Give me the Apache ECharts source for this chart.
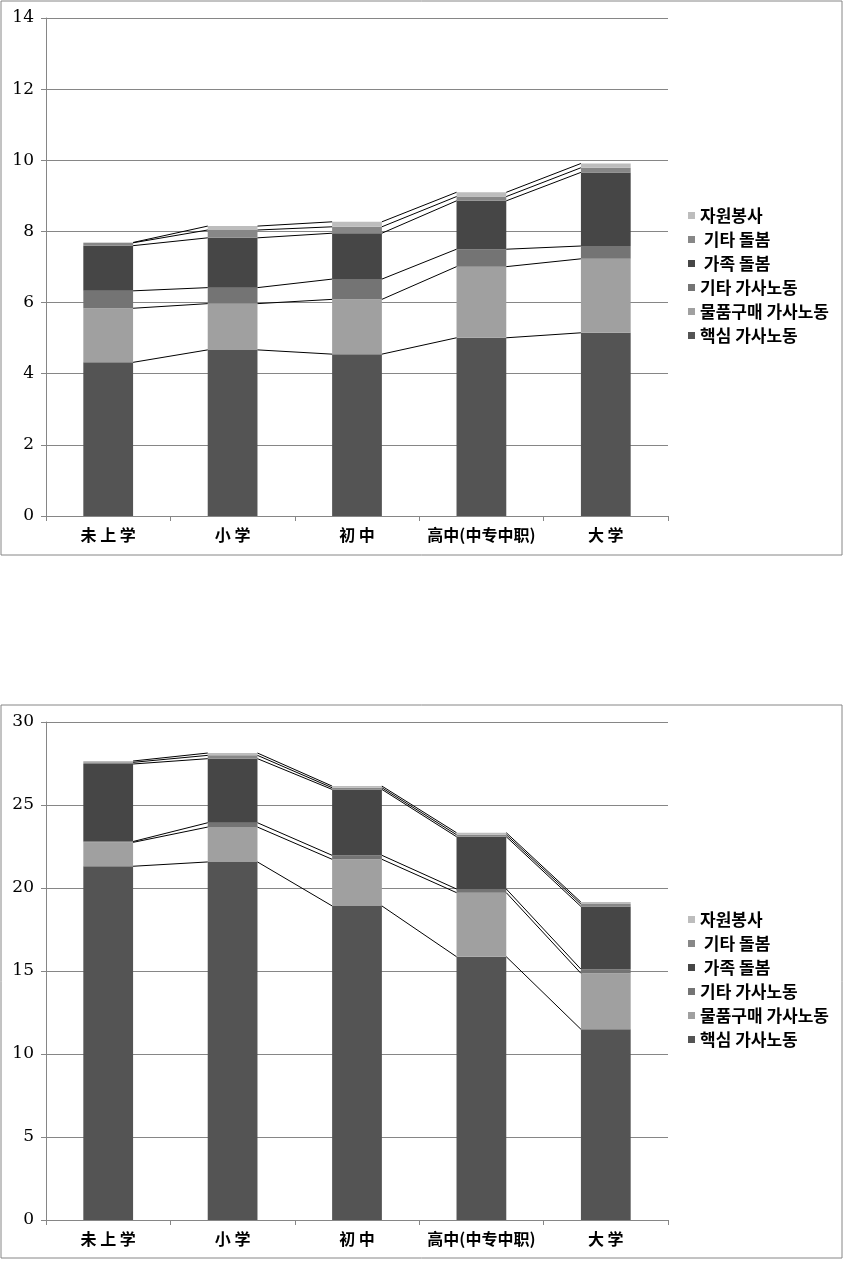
<!DOCTYPE html>
<html>
<head>
<meta charset="utf-8">
<script src="https://cdn.jsdelivr.net/npm/echarts@6/dist/echarts.min.js"></script>
<style>
  body { margin: 0; background: #fff; }
  .chart { position: absolute; left: 0; width: 844px; }
</style>
</head>
<body>
<div id="top" class="chart" style="top:0;height:560px"></div>
<div id="bottom" class="chart" style="top:700px;height:561px"></div>
<script>
// categories and series names
const categories = ['未 上 学', '小 学', '初 中', '高中(中专中职)', '大 学']
const seriesNames = ['핵심 가사노동', '물품구매 가사노동', '기타 가사노동', ' 가족 돌봄', ' 기타 돌봄', '자원봉사']
const seriesColors = ['#545454', '#a0a0a0', '#747474', '#464646', '#878787', '#bdbdbd']

// top chart values
const topCore = [4.32, 4.67, 4.55, 5.01, 5.15]
const topShopping = [1.52, 1.30, 1.54, 2.00, 2.08]
const topOtherHouse = [0.49, 0.45, 0.57, 0.49, 0.36]
const topFamilyCare = [1.27, 1.40, 1.29, 1.36, 2.07]
const topOtherCare = [0.08, 0.22, 0.18, 0.12, 0.13]
const topVolunteer = [0.01, 0.11, 0.14, 0.12, 0.12]

// bottom chart values
const botCore = [21.31, 21.57, 18.92, 15.86, 11.49]
const botShopping = [1.44, 2.10, 2.81, 3.86, 3.37]
const botOtherHouse = [0.05, 0.26, 0.24, 0.22, 0.25]
const botFamilyCare = [4.67, 3.86, 3.97, 3.15, 3.78]
const botOtherCare = [0.10, 0.20, 0.10, 0.12, 0.14]
const botVolunteer = [0.08, 0.14, 0.10, 0.12, 0.12]

const topTicks = { max: 14, interval: 2 }
const botTicks = { max: 30, interval: 5 }

const axisGray = '#868686'

function buildOption(values, ticks, layout) {
  const bars = values.map((d, k) => ({
    name: seriesNames[k],
    type: 'bar',
    stack: 'total',
    barWidth: '40%',
    itemStyle: { color: seriesColors[k] },
    data: d
  }))
  // Excel style series lines between stacked tops
  const cum = [0, 0, 0, 0, 0]
  const lines = values.map((d, k) => {
    d.forEach((v, i) => { cum[i] += v })
    const tops = cum.slice()
    const seg = []
    for (let i = 0; i < tops.length - 1; i++) seg.push([i, tops[i], tops[i + 1]])
    return {
      type: 'custom',
      silent: true,
      z: 5,
      data: seg,
      encode: { x: 0, y: [1, 2] },
      renderItem(params, api) {
        const i = api.value(0)
        const p0 = api.coord([i, api.value(1)])
        const p1 = api.coord([i + 1, api.value(2)])
        const half = api.size([1, 0])[0] * 0.2
        return {
          type: 'line',
          shape: { x1: p0[0] + half, y1: p0[1], x2: p1[0] - half, y2: p1[1] },
          style: { stroke: '#000', lineWidth: 1 }
        }
      }
    }
  })
  return {
    animation: false,
    color: seriesColors,
    graphic: [{
      type: 'rect',
      shape: { x: 1, y: layout.frameTop, width: 841, height: layout.frameH },
      style: { fill: 'none', stroke: axisGray, lineWidth: 1 },
      silent: true
    }],
    grid: { left: 46, top: layout.gridTop, width: 622, height: 498 },
    legend: {
      orient: 'vertical',
      left: 688,
      top: layout.legendTop,
      padding: 0,
      itemWidth: 7,
      itemHeight: 7,
      itemGap: 7,
      icon: 'rect',
      data: seriesNames.slice().reverse(),
      textStyle: { fontFamily: 'Noto Sans CJK KR', fontSize: 17, fontWeight: 'bold', lineHeight: 17, color: '#000' }
    },
    xAxis: {
      type: 'category',
      data: categories,
      axisLine: { lineStyle: { color: axisGray } },
      axisTick: { show: true, length: 5, lineStyle: { color: axisGray } },
      axisLabel: { interval: 0, margin: 11, color: '#000', fontFamily: 'Noto Sans CJK SC', fontSize: 16, fontWeight: 'bold' }
    },
    yAxis: {
      type: 'value',
      min: 0,
      max: ticks.max,
      interval: ticks.interval,
      axisLine: { show: true, lineStyle: { color: axisGray } },
      axisTick: { show: true, length: 5, lineStyle: { color: axisGray } },
      axisLabel: { margin: 12, color: '#000', fontFamily: 'DejaVu Serif', fontSize: 17 },
      splitLine: { lineStyle: { color: axisGray } }
    },
    series: bars.concat(lines)
  }
}

const topChart = echarts.init(document.getElementById('top'))
topChart.setOption(buildOption(
  [topCore, topShopping, topOtherHouse, topFamilyCare, topOtherCare, topVolunteer],
  topTicks,
  { frameTop: 1, frameH: 554, gridTop: 18, legendTop: 207 }
))

const botChart = echarts.init(document.getElementById('bottom'))
botChart.setOption(buildOption(
  [botCore, botShopping, botOtherHouse, botFamilyCare, botOtherCare, botVolunteer],
  botTicks,
  { frameTop: 5, frameH: 553, gridTop: 22, legendTop: 211 }
))
</script>
</body>
</html>
